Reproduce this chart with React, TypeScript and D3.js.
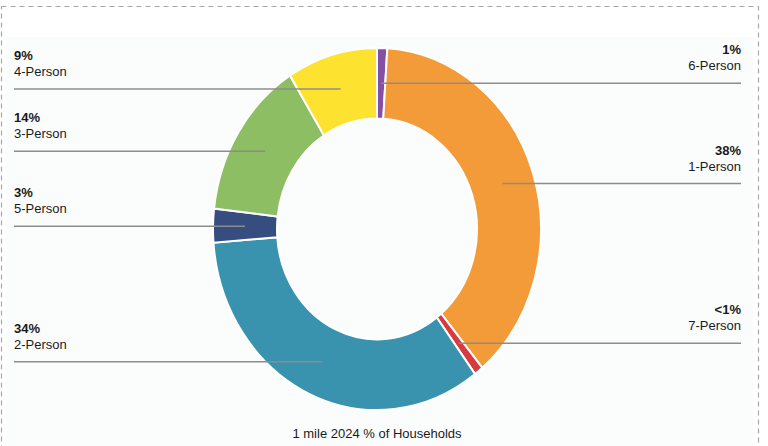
import React from "react";
import * as d3 from "d3";

const categories = ["6-Person", "1-Person", "7-Person", "2-Person", "5-Person", "3-Person", "4-Person"];
const values = [1.0, 37.9, 0.9, 34.0, 3.0, 14.3, 8.9];
const valueLabels = ["1%", "38%", "<1%", "34%", "3%", "14%", "9%"];
const colors = ["#8550A3", "#F39B38", "#D93A40", "#3A93AE", "#354E7F", "#8DBE63", "#FDE22F"];
const title = "1 mile 2024 % of Households";

const W = 768;
const H = 446;
const cx = 377;
const cy = 229;
const R = 164;
const r = 100;
const sy = 1.104;
const leftX = 14;
const rightX = 741;

export default function App() {
  const data = categories.map((c, i) => ({ name: c, value: values[i], label: valueLabels[i], color: colors[i] }));
  const pie = d3.pie<any>().sort(null).value((d: any) => d.value).startAngle(0).endAngle(2 * Math.PI);
  const arcs = pie(data);
  const arc = d3.arc<any>().innerRadius(r).outerRadius(R);
  const font = "'Liberation Sans', Arial, Helvetica, sans-serif";

  return (
    <svg width={W} height={H} style={{ position: "absolute", left: 0, top: 0 }} fontFamily={font}>
      <rect x={0} y={0} width={W} height={H} fill="#ffffff" />
      <rect x={6} y={37} width={747} height={H - 37} fill="#fbfdfd" />
      <rect x={1.5} y={6.5} width={757} height={H} fill="none" stroke="#a8a8a8" strokeWidth={1.2} strokeDasharray="5,4" />
      <g transform={`translate(${cx},${cy}) scale(1,${sy})`}>
        {arcs.map((a, i) => (
          <path key={i} d={arc(a) as string} fill={a.data.color} stroke="#ffffff" strokeWidth={2} vectorEffect="non-scaling-stroke" />
        ))}
      </g>
      {arcs.map((a, i) => {
        const [mx, my] = arc.centroid(a);
        const px = cx + mx;
        const py = cy + my * sy;
        const left = px < cx;
        const tx = left ? leftX : rightX;
        return (
          <g key={"l" + i}>
            <line x1={left ? leftX : px} x2={left ? px : rightX} y1={py} y2={py} stroke="#8c8c8c" strokeWidth={1.5} />
            <text x={tx} y={py - 29} textAnchor={left ? "start" : "end"} fontSize={13} fontWeight="bold" fill="#1a1a1a">
              {a.data.label}
            </text>
            <text x={tx} y={py - 13} textAnchor={left ? "start" : "end"} fontSize={13} fill="#1a1a1a">
              {a.data.name}
            </text>
          </g>
        );
      })}
      <text x={cx} y={438} textAnchor="middle" fontSize={13} fill="#1a1a1a">
        {title}
      </text>
    </svg>
  );
}
